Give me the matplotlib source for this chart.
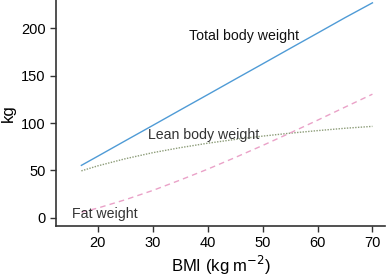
import numpy as np
import matplotlib
matplotlib.use("Agg")
import matplotlib.pyplot as plt

plt.rcParams['font.family'] = ['Liberation Sans', 'DejaVu Sans']

# values
bmi = [17, 20, 25, 30, 35, 40, 45, 50, 55, 60, 65, 70]
total_weight = [55.3, 65.0, 81.3, 97.5, 113.8, 130.0, 146.3, 162.5, 178.8, 195.0, 211.3, 227.0]
lean_weight = [49.5, 54.8, 62.3, 68.7, 74.0, 78.7, 82.7, 86.2, 89.3, 92.0, 94.5, 96.5]
fat_weight = [5.8, 10.2, 19.0, 28.8, 39.8, 51.3, 63.6, 76.3, 89.5, 103.0, 116.8, 130.5]

xticks = [20, 30, 40, 50, 60, 70]
yticks = [0, 50, 100, 150, 200]

fig = plt.figure(figsize=(3.87, 2.76), dpi=100)
ax = fig.add_axes([0.145, 0.181, 0.85, 0.819])

ax.plot(bmi, total_weight, color="#4f9bd6", lw=1.0, ls="-")
ax.plot(bmi, lean_weight, color="#8c9c78", lw=1.0, ls=(0, (1, 1)))
ax.plot(bmi, fat_weight, color="#eaa2c8", lw=1.0, ls=(0, (4, 3)))

ax.text(46.7, 192, "Total body weight", ha="center", va="center", fontsize=10.2, color="#111111")
ax.text(39.3, 87, "Lean body weight", ha="center", va="center", fontsize=10.2, color="#333333")
ax.text(21.3, 4, "Fat weight", ha="center", va="center", fontsize=10.2, color="#333333")

ax.set_xlim(12.4, 72.3)
ax.set_ylim(-8.8, 230)
ax.set_xticks(xticks)
ax.set_yticks(yticks)
ax.tick_params(labelsize=10.5, length=4, width=1, color="#333333", direction="out")
ax.set_xlabel("BMI (kg m$^{-2}$)", fontsize=12)
ax.xaxis.set_label_coords(0.5, -0.125)
ax.set_ylabel("kg", fontsize=12)

for s in ["top", "right"]:
    ax.spines[s].set_visible(False)
for s in ["left", "bottom"]:
    ax.spines[s].set_color("#333333")
    ax.spines[s].set_linewidth(1.2)

fig.savefig("out.png", dpi=100)
